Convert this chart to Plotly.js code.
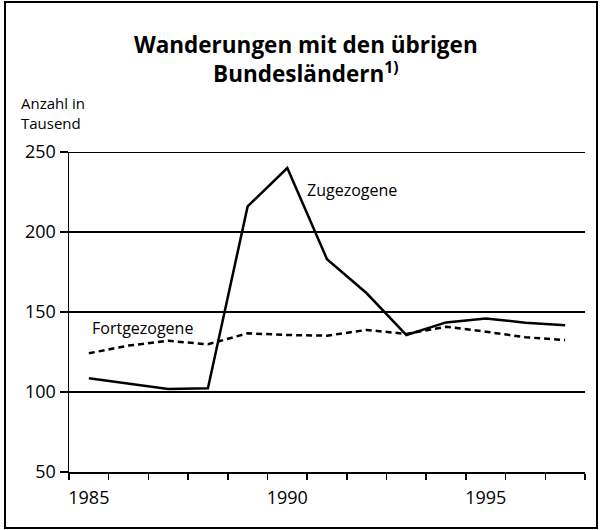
<!DOCTYPE html>
<html>
<head>
<meta charset="utf-8">
<script src="https://cdn.plot.ly/plotly-3.0.1.min.js"></script>
<style>
  html, body { margin: 0; padding: 0; background: #fff; }
  #chart { width: 602px; height: 530px; }
</style>
</head>
<body>
<div id="chart"></div>
<script>
// Wanderungen mit den übrigen Bundesländern, Anzahl in Tausend
const YEARS = [1985, 1986, 1987, 1988, 1989, 1990, 1991, 1992, 1993, 1994, 1995, 1996, 1997];
const ZUGEZOGENE = [108.6, 105.3, 101.9, 102.3, 216, 240, 183, 161.7, 135.6, 143.5, 146, 143.3, 141.7];
const FORTGEZOGENE = [124.2, 129, 132, 129.8, 136.7, 135.6, 135.2, 138.8, 136.3, 140.8, 137.7, 134.2, 132.5];
const X_LABELS = [1985, 1990, 1995];
const Y_TICKS = [50, 100, 150, 200, 250];
const Y_MAX = 250;

const FONT = "'Open Sans', 'DejaVu Sans', sans-serif";

const traces = [
  {
    x: YEARS, y: ZUGEZOGENE, name: "Zugezogene", type: "scatter", mode: "lines",
    line: { color: "#000", width: 2.5 },
  },
  {
    x: YEARS, y: FORTGEZOGENE, name: "Fortgezogene", type: "scatter", mode: "lines",
    line: { color: "#000", width: 2.5, dash: "6px,4px" },
  },
];

const layout = {
  width: 602, height: 530,
  margin: { l: 69, r: 17, t: 152, b: 58 },
  paper_bgcolor: "#fff", plot_bgcolor: "#fff",
  showlegend: false,
  font: { family: FONT, color: "#000", size: 18 },
  title: {
    text: "<b>Wanderungen mit den übrigen<br>Bundesländern<sup>1)</sup></b>",
    font: { family: FONT, size: 22.5, color: "#000" },
    xref: "container", x: 0.508, xanchor: "center",
    yref: "container", y: 1 - 53 / 530, yanchor: "top",
  },
  xaxis: {
    range: [1984.5, 1997.5],
    tickvals: X_LABELS,
    ticks: "",
    ticklabelstandoff: 8,
    showgrid: false, zeroline: false,
    showline: true, linecolor: "#000", linewidth: 2,
    tickfont: { size: 18 },
    minor: { ticks: "outside", tick0: 1984.5, dtick: 1, ticklen: 6, tickwidth: 1.5, tickcolor: "#000", showgrid: false },
  },
  yaxis: {
    range: [50, Y_MAX],
    tickvals: Y_TICKS,
    ticks: "outside", ticklen: 8, tickwidth: 1.5, tickcolor: "#000",
    showgrid: true, gridcolor: "#000", gridwidth: 2,
    zeroline: false,
    showline: true, linecolor: "#000", linewidth: 1.5,
    tickfont: { size: 18 },
  },
  annotations: [
    {
      text: "Anzahl in<br>Tausend", xref: "paper", yref: "paper",
      x: (19 - 69) / 516, xanchor: "left", y: (472 - 113) / 320, yanchor: "middle",
      align: "left", showarrow: false, font: { size: 15 },
    },
    {
      text: "Fortgezogene", xref: "x", yref: "y", x: 1985.03, y: 140.2,
      xanchor: "left", yanchor: "middle", showarrow: false, font: { size: 16 },
    },
    {
      text: "Zugezogene", xref: "x", yref: "y", x: 1990.44, y: 226,
      xanchor: "left", yanchor: "middle", showarrow: false, font: { size: 16 },
    },
  ],
  shapes: [
    // top grid line (Plotly drops the one sitting on the range edge)
    {
      type: "line", xref: "paper", yref: "y", x0: 0, x1: 1, y0: Y_MAX, y1: Y_MAX,
      line: { color: "#000", width: 2 },
    },
    {
      type: "rect", xref: "paper", yref: "paper",
      x0: (5 - 69) / 516, x1: (597 - 69) / 516,
      y0: (472 - 528) / 320, y1: (472 - 2) / 320,
      line: { color: "#000", width: 2 },
    },
  ],
};

Plotly.newPlot("chart", traces, layout, { staticPlot: true });
</script>
</body>
</html>
